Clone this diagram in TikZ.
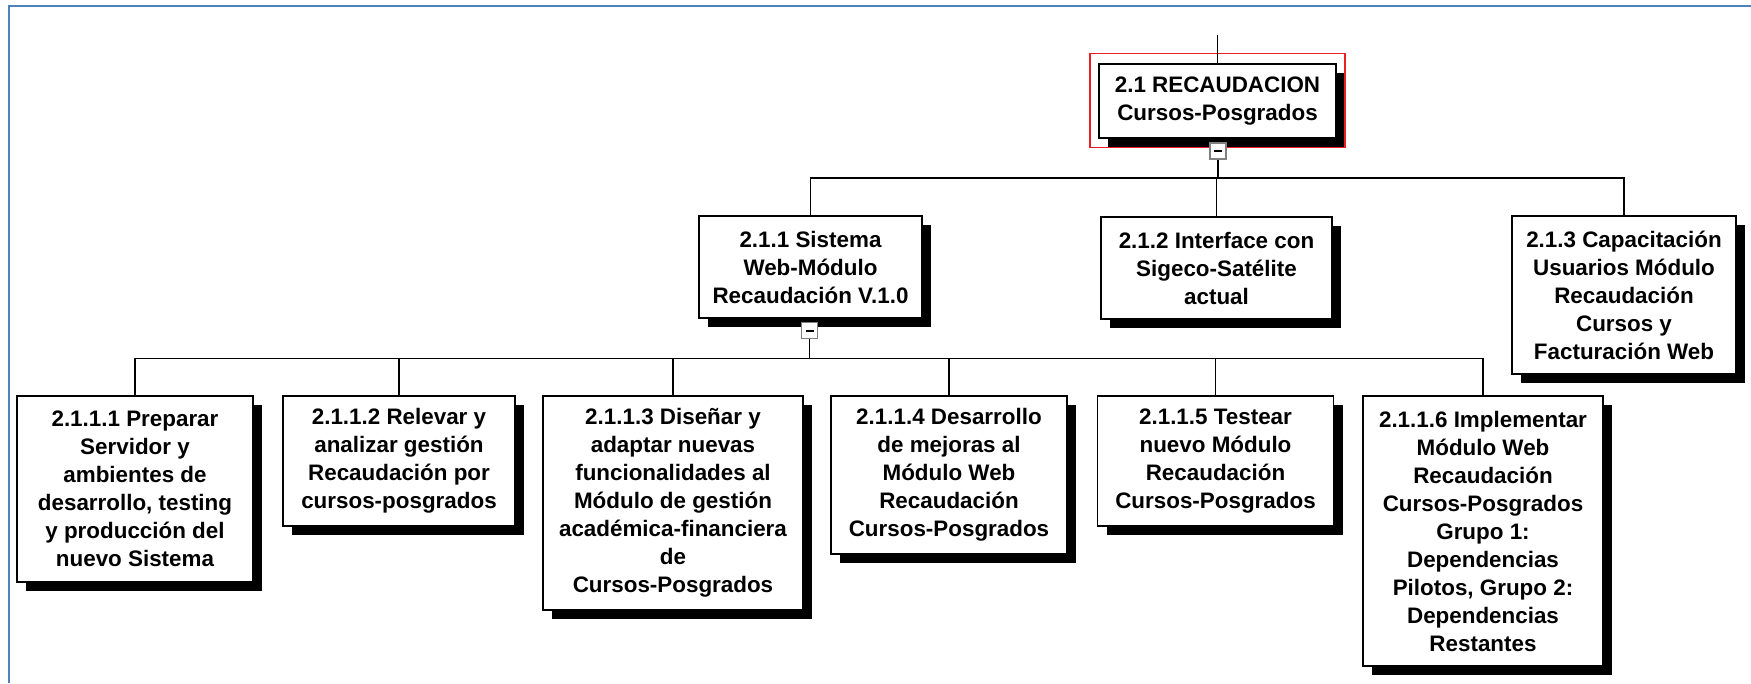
\documentclass[tikz,border=0pt]{standalone}
\usepackage{fontspec}
\setmainfont{Liberation Sans}
\usetikzlibrary{shadows}
\definecolor{marco}{RGB}{79,129,189}
\definecolor{seleccion}{RGB}{235,30,35}

\begin{document}
\begin{tikzpicture}[x=1pt,y=-1pt,
    paquete/.style ={rectangle, draw, fill=white, line width=1.8pt, inner sep=0pt, align=center,
      font=\bfseries\fontsize{22.4}{28}\selectfont,
      drop shadow={shadow xshift=9pt, shadow yshift=-8.5pt, fill=black, opacity=1}},
    lineas/.style ={minimum height={28pt*#1+18pt}},
    conector/.style ={line width=1.8pt},
    plegar/.style ={rectangle, draw=gray, fill=white, line width=1.3pt, minimum size=16pt, inner sep=0pt}]
   \useasboundingbox (0,0) rectangle (1751,683);
   \draw[marco, line width=2pt] (9,683) -- (9,6) -- (1751,6);
   % raiz y primer nivel
   \node[paquete, lineas=2, minimum width=237pt] (R) at (1217.5,101) {2.1 RECAUDACION\\Cursos-Posgrados};
   \node[paquete, lineas=3, minimum width=223pt] (S) at (810.5,267) {2.1.1 Sistema\\Web-Módulo\\Recaudación V.1.0};
   \node[paquete, lineas=3, minimum width=231pt] (I) at (1216.5,268) {2.1.2 Interface con\\Sigeco-Satélite\\actual};
   \node[paquete, lineas=5, minimum width=224pt] (C) at (1624,295) {2.1.3 Capacitación\\Usuarios Módulo\\Recaudación\\Cursos y\\Facturación Web};
   % segundo nivel
   \node[paquete, lineas=6, minimum width=236pt] (P1) at (135,489) {2.1.1.1 Preparar\\Servidor y\\ambientes de\\desarrollo, testing\\y producción del\\nuevo Sistema};
   \node[paquete, lineas=4, minimum width=232pt] (P2) at (399,461) {2.1.1.2 Relevar y\\analizar gestión\\Recaudación por\\cursos-posgrados};
   \node[paquete, lineas=7, minimum width=260pt] (P3) at (673,503) {2.1.1.3 Diseñar y\\adaptar nuevas\\funcionalidades al\\Módulo de gestión\\académica-financiera\\de\\Cursos-Posgrados};
   \node[paquete, lineas=5, minimum width=236pt] (P4) at (949,475) {2.1.1.4 Desarrollo\\de mejoras al\\Módulo Web\\Recaudación\\Cursos-Posgrados};
   \node[paquete, lineas=4, minimum width=236pt] (P5) at (1215.5,461) {2.1.1.5 Testear\\nuevo Módulo\\Recaudación\\Cursos-Posgrados};
   \node[paquete, lineas=9, minimum width=240pt] (P6) at (1483,531) {2.1.1.6 Implementar\\Módulo Web\\Recaudación\\Cursos-Posgrados\\Grupo 1:\\Dependencias\\Pilotos, Grupo 2:\\Dependencias\\Restantes};
   \draw[seleccion, line width=1.5pt] ([shift={(-8,-9.5)}]R.north west) rectangle ([shift={(8,8.5)}]R.south east);
   \node[plegar] (mR) at (1218,151) {\rule[-1pt]{8pt}{2pt}};
   \node[plegar] (mS) at (809.5,330.5) {\rule[-1pt]{8pt}{2pt}};
   % conectores
   \coordinate (arriba) at (1217.5,35);
   \coordinate (b1) at (1218,178);
   \coordinate (b2) at (809.5,358.5);
   \draw[conector] (arriba) -- (R.north);
   \draw[conector] (mR.south) -- (b1);
   \draw[conector] (b1) -| (S.north);
   \draw[conector] (b1) -| (I.north);
   \draw[conector] (b1) -| (C.north);
   \draw[conector] (mS.south) -- (b2);
   \foreach \p in {P1,P2,P3,P4,P5,P6}
     \draw[conector] (b2) -| (\p.north);
 \end{tikzpicture}
\end{document}
